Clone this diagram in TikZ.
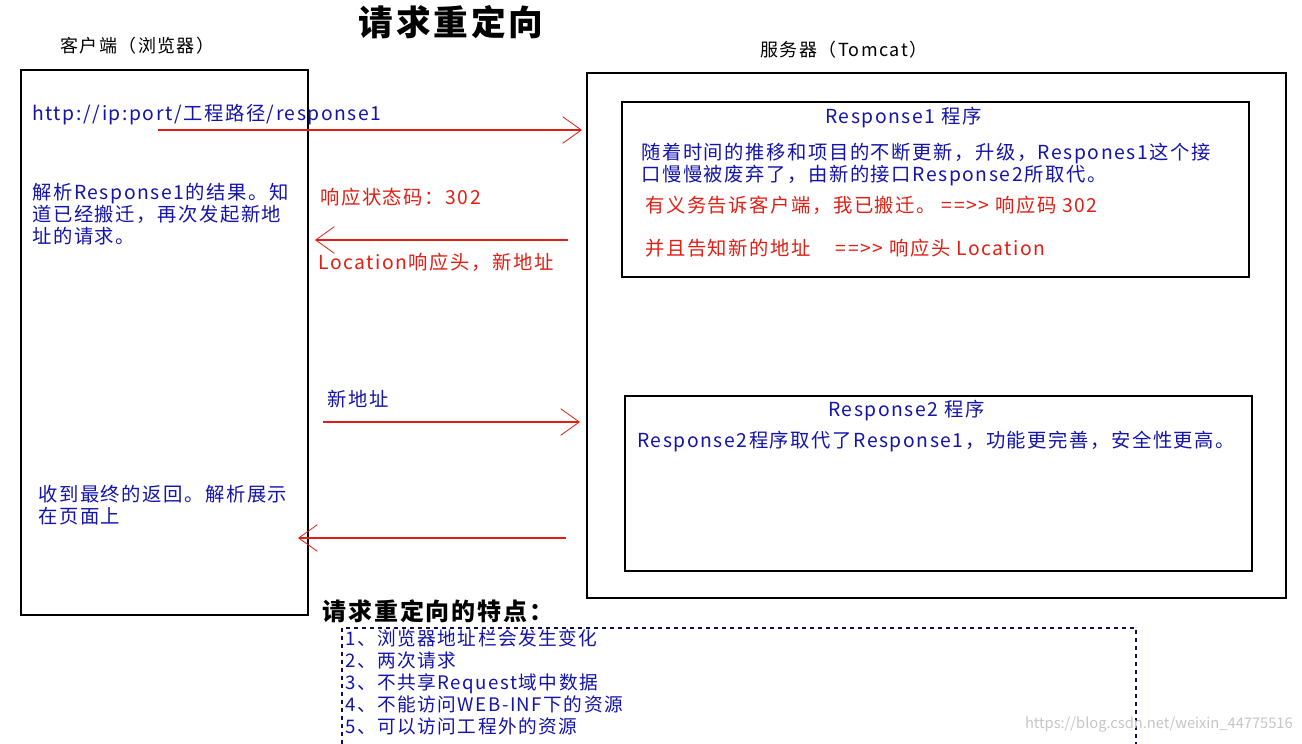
\documentclass[tikz,border=0pt]{standalone}
\usepackage{fontspec}
\setmainfont{Noto Sans CJK SC}
\newfontfamily\widecjk[LetterSpace=8]{Noto Sans CJK SC}
\usetikzlibrary{arrows.meta}
\definecolor{tblue}{RGB}{20,20,170}
\definecolor{tred}{RGB}{225,30,20}
\begin{document}
\begin{tikzpicture}[x=0.75pt,y=-0.75pt,
  box/.style={draw=black,line width=0.9pt},
  arr/.style={draw=tred,line width=0.8pt,-{Straight Barb[length=14pt,width=20pt,line width=0.6pt]}},
  bt/.style={text=tblue,anchor=west,inner sep=0pt,font=\widecjk\fontsize{14.5}{16.5}\selectfont},
  rt/.style={text=tred,anchor=west,inner sep=0pt,font=\widecjk\fontsize{14.5}{16.5}\selectfont},
  kt/.style={text=black,anchor=west,inner sep=0pt,font=\widecjk\fontsize{13.5}{15}\selectfont}]
\useasboundingbox (0,0) rectangle (1302,743);
\fill[white] (0,0) rectangle (1302,743);
\node[inner sep=0pt,font=\widecjk\fontsize{26}{28}\selectfont\bfseries] (title) at (451,22) {请求重定向};
\node[kt] (cl) at (60,46) {客户端（浏览器）};
\node[kt] (sl) at (760,50) {服务器（Tomcat）};
\draw[box] (21,70) rectangle (308,615);
\draw[box] (587,73) rectangle (1286,598);
\draw[box] (622,102) rectangle (1249,277);
\draw[box] (625,396) rectangle (1252,571);
\node[bt] (url) at (32,115) {http://ip:port/工程路径/response1};
\node[bt,align=left,anchor=north west] (parse) at (32,183) {解析Response1的结果。知\\道已经搬迁，再次发起新地\\址的请求。};
\node[bt,align=left,anchor=north west] (final) at (38,485) {收到最终的返回。解析展示\\在页面上};
\node[rt] (code) at (320,197) {响应状态码：302};
\node[rt] (loc) at (318,262) {Location响应头，新地址};
\node[bt] (newaddr) at (327,399) {新地址};
\node[bt] (r1) at (825,118) {Response1 程序};
\node[bt,align=left,anchor=north west] (r1t) at (641,143) {随着时间的推移和项目的不断更新，升级，Respones1这个接\\口慢慢被废弃了，由新的接口Response2所取代。};
\node[rt] (r1a) at (645,205) {有义务告诉客户端，我已搬迁。 ={}={>}{>} 响应码 302};
\node[rt] (r1b) at (645,248) {并且告知新的地址 \quad ={}={>}{>} 响应头 Location};
\node[bt] (r2) at (828,411) {Response2 程序};
\node[bt] (r2t) at (637,441) {Response2程序取代了Response1，功能更完善，安全性更高。};
\coordinate (a1s) at (158,130); \coordinate (a1e) at (582,130);
\coordinate (a2s) at (568,240); \coordinate (a2e) at (315,240);
\coordinate (a3s) at (323,422); \coordinate (a3e) at (580,422);
\coordinate (a4s) at (566,538); \coordinate (a4e) at (298,538);
\draw[arr] (a1s) -- (a1e);
\draw[arr] (a2s) -- (a2e);
\draw[arr] (a3s) -- (a3e);
\draw[arr] (a4s) -- (a4e);
\node[kt,font=\widecjk\fontsize{18}{20}\selectfont\bfseries] (feat) at (322,611) {请求重定向的特点：};
\draw[tblue!60!black,dashed,line width=0.8pt] (342,760) -- (342,628) -- (1136,628) -- (1136,760);
\node[bt,align=left,anchor=north west,font=\widecjk\fontsize{14}{16.5}\selectfont] (list) at (345,629) {1、浏览器地址栏会发生变化\\2、两次请求\\3、不共享Request域中数据\\4、不能访问WEB-INF下的资源\\5、可以访问工程外的资源};
\node[anchor=east,inner sep=0pt,text=gray!45,font=\fontsize{11}{12}\selectfont] (wm) at (1293,724) {https://blog.csdn.net/weixin\_44775516};
\end{tikzpicture}
\end{document}
